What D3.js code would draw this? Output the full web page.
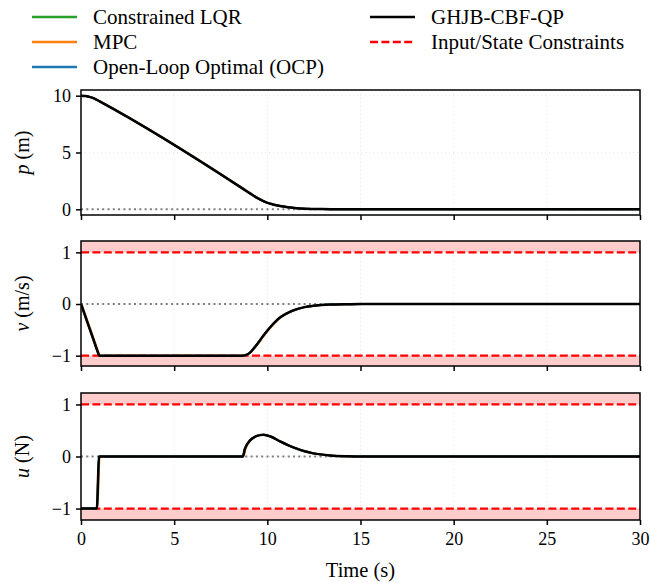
<!DOCTYPE html>
<html>
<head>
<meta charset="utf-8">
<script src="https://cdn.jsdelivr.net/npm/d3@7"></script>
<style>
  body { margin: 0; background: #fff; }
  svg { display: block; }
  svg text { font-family: "Liberation Serif", "Times New Roman", serif; }
</style>
</head>
<body>
<svg id="chart" width="650" height="583"></svg>
<script>
// ---------- DATA ----------
const seriesNames = ["Constrained LQR", "MPC", "Open-Loop Optimal (OCP)", "GHJB-CBF-QP"];
const seriesColors = ["#2ca02c", "#ff7f0e", "#1f77b4", "#000000"];
const constraintLabel = "Input/State Constraints";

const xTicks = [0, 5, 10, 15, 20, 25, 30];
const pTicks = [0, 5, 10];
const vTicks = [-1, 0, 1];
const uTicks = [-1, 0, 1];

// position p (m)
const tP = [0, 0.25, 0.5, 0.75, 1.0, 8.68, 9.07, 9.5, 9.97, 10.3, 10.68, 11.1, 11.58, 12.0, 12.47, 13.4, 15, 30];
const pVals = [10, 9.97, 9.875, 9.72, 9.5, 1.82, 1.40, 0.96, 0.59, 0.43, 0.29, 0.18, 0.09, 0.05, 0.03, 0.01, 0, 0];

// velocity v (m/s)
const tV = [0, 0.5, 0.93, 0.97, 8.68, 8.9, 9.1, 9.34, 9.55, 9.79, 10.2, 10.68, 11.1, 11.58, 12.0, 12.47, 13.37, 14.3, 15, 30];
const vVals = [0, -0.515, -0.96, -1, -1, -0.98, -0.93, -0.83, -0.73, -0.61, -0.43, -0.26, -0.17, -0.10, -0.06, -0.035, -0.01, -0.003, 0, 0];

// input u (N)
const tU = [0, 0.85, 0.97, 8.68, 8.8, 9.07, 9.4, 9.79, 10.2, 10.68, 11.1, 11.58, 12.0, 12.47, 13.37, 14.3, 15, 30];
const uVals = [-1, -1, 0, 0, 0.15, 0.31, 0.39, 0.42, 0.38, 0.29, 0.22, 0.15, 0.10, 0.06, 0.02, 0.005, 0, 0];

const stateLimit = [-1, 1];

// ---------- LAYOUT ----------
const svg = d3.select("#chart");
const left = 81, right = 640;
const panels = [
  { top: 90, bottom: 215, domain: [-0.5, 10.5], ticks: pTicks, t: tP, y: pVals, label: ["p", " (m)"], constraints: false },
  { top: 241, bottom: 366, domain: [-1.2, 1.22], ticks: vTicks, t: tV, y: vVals, label: ["v", " (m/s)"], constraints: true },
  { top: 393, bottom: 520, domain: [-1.22, 1.22], ticks: uTicks, t: tU, y: uVals, label: ["u", " (N)"], constraints: true }
];

const x = d3.scaleLinear().domain([0, 30]).range([left, right]);
const fmt = d3.format("d");
const redDash = "8,3.4";

panels.forEach((pn, i) => {
  const y = d3.scaleLinear().domain(pn.domain).range([pn.bottom, pn.top]);
  const g = svg.append("g");
  const clipId = "clip" + i;
  svg.append("clipPath").attr("id", clipId).append("rect")
    .attr("x", left).attr("y", pn.top).attr("width", right - left).attr("height", pn.bottom - pn.top);

  const plot = g.append("g").attr("clip-path", `url(#${clipId})`);

  if (pn.constraints) {
    plot.append("rect").attr("x", left).attr("width", right - left)
      .attr("y", pn.top).attr("height", y(stateLimit[1]) - pn.top)
      .attr("fill", "#ff0000").attr("fill-opacity", 0.2);
    plot.append("rect").attr("x", left).attr("width", right - left)
      .attr("y", y(stateLimit[0])).attr("height", pn.bottom - y(stateLimit[0]))
      .attr("fill", "#ff0000").attr("fill-opacity", 0.2);
  }

  plot.selectAll(".gx").data(xTicks).enter().append("line")
    .attr("x1", d => x(d)).attr("x2", d => x(d)).attr("y1", pn.top).attr("y2", pn.bottom)
    .attr("stroke", "#dddddd").attr("stroke-width", 0.8).attr("stroke-dasharray", "1,3");
  plot.selectAll(".gy").data(pn.ticks).enter().append("line")
    .attr("x1", left).attr("x2", right).attr("y1", d => y(d)).attr("y2", d => y(d))
    .attr("stroke", "#dddddd").attr("stroke-width", 0.8).attr("stroke-dasharray", "1,3");

  plot.append("line").attr("x1", left).attr("x2", right).attr("y1", y(0)).attr("y2", y(0))
    .attr("stroke", "#808080").attr("stroke-width", 2).attr("stroke-dasharray", "2,3.3");

  if (pn.constraints) {
    stateLimit.forEach(c => {
      plot.append("line").attr("x1", left).attr("x2", right).attr("y1", y(c)).attr("y2", y(c))
        .attr("stroke", "#ff0000").attr("stroke-width", 2.2).attr("stroke-dasharray", redDash);
    });
  }

  const data = pn.t.map((t, k) => [t, pn.y[k]]);
  const line = d3.line().x(d => x(d[0])).y(d => y(d[1])).curve(d3.curveMonotoneX);
  seriesColors.forEach((c, s) => {
    plot.append("path").datum(data).attr("d", line)
      .attr("fill", "none").attr("stroke", c)
      .attr("stroke-width", s === 3 ? 2.5 : 2)
      .attr("transform", s === 1 ? "translate(0.6,0)" : null)
      .attr("stroke-linejoin", "round");
  });

  const yAxis = d3.axisLeft(y).tickValues(pn.ticks).tickFormat(fmt).tickSize(5).tickPadding(5);
  const ya = g.append("g").attr("transform", `translate(${left},0)`).call(yAxis);
  const xAxis = d3.axisBottom(x).tickValues(xTicks).tickFormat(fmt).tickSize(5).tickPadding(7);
  if (i < 2) xAxis.tickFormat("");
  const xa = g.append("g").attr("transform", `translate(0,${pn.bottom})`).call(xAxis);
  [ya, xa].forEach(a => {
    a.attr("font-family", null).attr("font-size", null);
    a.select(".domain").remove();
    a.selectAll(".tick line").attr("stroke", "#000").attr("stroke-width", 1.5);
    a.selectAll(".tick text").attr("fill", "#000").style("font-size", "18px");
  });

  g.append("rect").attr("x", left).attr("y", pn.top).attr("width", right - left).attr("height", pn.bottom - pn.top)
    .attr("fill", "none").attr("stroke", "#000").attr("stroke-width", 1.5);

  const cy = (pn.top + pn.bottom) / 2;
  const lab = svg.append("text").attr("transform", `translate(29,${cy}) rotate(-90)`)
    .attr("text-anchor", "middle").style("font-size", "20px");
  lab.append("tspan").style("font-style", "italic").text(pn.label[0]);
  lab.append("tspan").text(pn.label[1]);
});

svg.append("text").attr("x", (left + right) / 2).attr("y", 577).attr("text-anchor", "middle")
  .style("font-size", "20.5px").text("Time (s)");

// ---------- LEGEND ----------
const legendItems = [
  { name: seriesNames[0], color: seriesColors[0], dash: null, col: 0, row: 0 },
  { name: seriesNames[1], color: seriesColors[1], dash: null, col: 0, row: 1 },
  { name: seriesNames[2], color: seriesColors[2], dash: null, col: 0, row: 2 },
  { name: seriesNames[3], color: seriesColors[3], dash: null, col: 1, row: 0 },
  { name: constraintLabel, color: "#ff0000", dash: redDash, col: 1, row: 1 }
];
const colX = [32, 370];
const rowY = [17, 42, 67];
const lg = svg.append("g");
legendItems.forEach(it => {
  const x0 = colX[it.col], yy = rowY[it.row];
  lg.append("line").attr("x1", x0).attr("x2", x0 + 45).attr("y1", yy).attr("y2", yy)
    .attr("stroke", it.color).attr("stroke-width", 2.4).attr("stroke-dasharray", it.dash);
  lg.append("text").attr("x", x0 + 61).attr("y", yy + 7).style("font-size", "21px").text(it.name);
});
</script>
</body>
</html>
